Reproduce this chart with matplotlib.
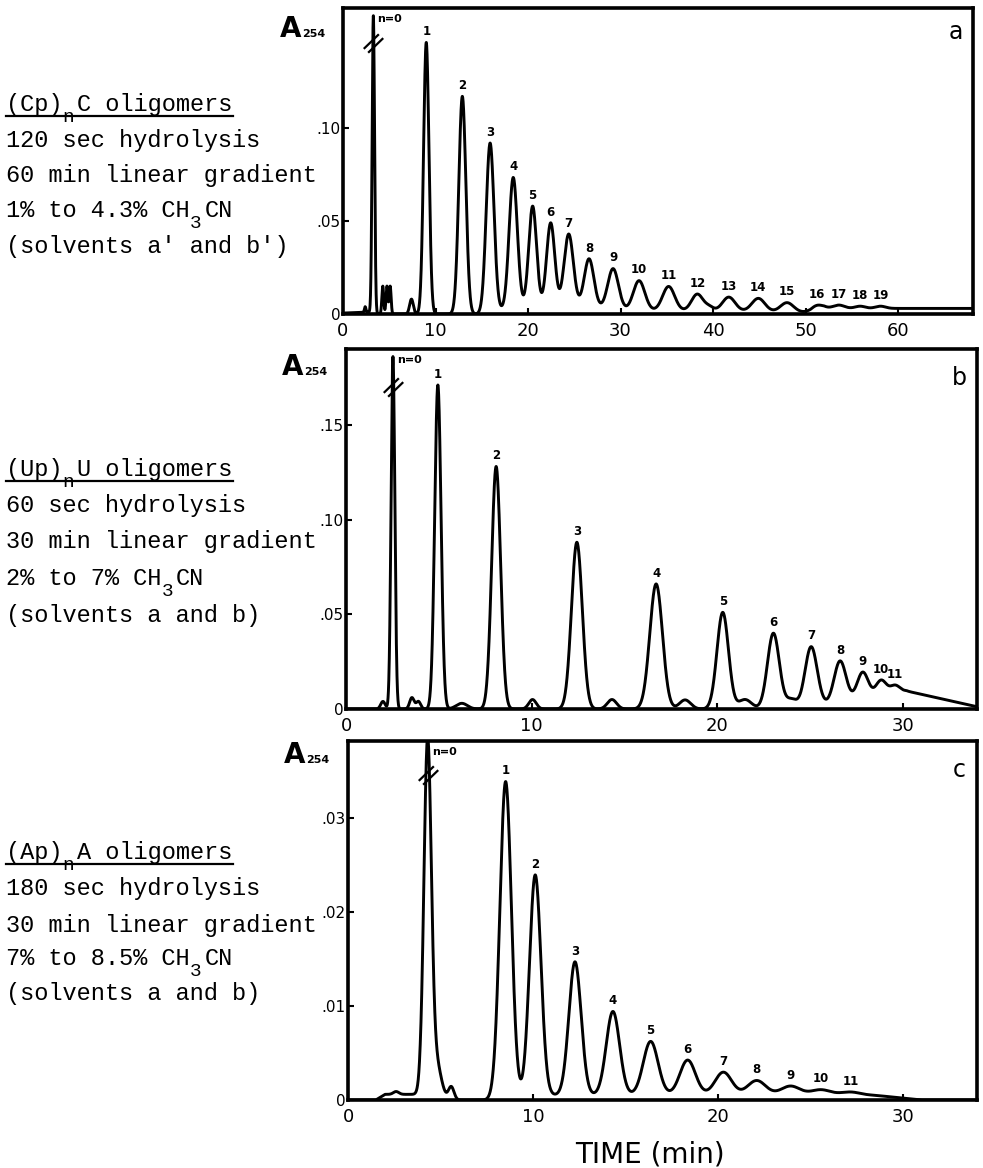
import numpy as np
import matplotlib.pyplot as plt
from matplotlib.path import Path

W, H, DPI = 983, 1168, 100

# ---------------- panel a : (Cp)nC oligomers ----------------
a_xmax, a_ymax = 68.1, 0.1645
a_xticks = [0, 10, 20, 30, 40, 50, 60]
a_yticks = [0, 0.05, 0.10]
a_ylabels = ["0", ".05", ".10"]
a_zero = (3.28, 0.160, 0.13)           # n=0 peak (off scale)
a_n_time = [9.0, 12.9, 15.9, 18.4, 20.5, 22.45, 24.4, 26.6, 29.2, 32.0,
            35.2, 38.3, 41.7, 44.9, 48.0, 51.2, 53.6, 55.9, 58.1]
a_n_height = [0.146, 0.117, 0.091, 0.070, 0.054, 0.045, 0.039, 0.026, 0.022, 0.016,
              0.013, 0.009, 0.0075, 0.007, 0.005, 0.0028, 0.0018, 0.0012, 0.0012]
a_n_width = [0.29, 0.38, 0.42, 0.44, 0.42, 0.44, 0.50, 0.52, 0.58, 0.62,
             0.65, 0.62, 0.68, 0.70, 0.70, 0.65, 0.60, 0.55, 0.55]
a_minor_time = [2.4, 4.3, 4.75, 5.1, 7.4, 39.6]
a_minor_height = [0.003, 0.015, 0.015, 0.015, 0.008, 0.002]
a_minor_width = [0.08, 0.10, 0.10, 0.10, 0.20, 0.45]
a_base_time = [0, 2.8, 3.6, 15, 19, 26, 30, 44, 49, 50.5, 52, 68.1]
a_base_val = [0.0005, 0.001, 0.0, 0.0, 0.004, 0.004, 0.002, 0.0015, 0.001, 0.0008, 0.003, 0.003]

# ---------------- panel b : (Up)nU oligomers ----------------
b_xmax, b_ymax = 34.0, 0.190
b_xticks = [0, 10, 20, 30]
b_yticks = [0, 0.05, 0.10, 0.15]
b_ylabels = ["0", ".05", ".10", ".15"]
b_zero = (2.53, 0.186, 0.10)
b_n_time = [4.95, 8.09, 12.44, 16.71, 20.30, 23.03, 25.06, 26.62, 27.84, 28.83, 29.58]
b_n_height = [0.171, 0.128, 0.088, 0.066, 0.051, 0.040, 0.032, 0.022, 0.014, 0.008, 0.004]
b_n_width = [0.17, 0.24, 0.29, 0.34, 0.31, 0.32, 0.33, 0.32, 0.30, 0.28, 0.26]
b_minor_time = [1.99, 3.55, 3.9, 6.24, 10.05, 14.33, 18.27, 21.5, 24.0]
b_minor_height = [0.004, 0.006, 0.004, 0.003, 0.005, 0.005, 0.0048, 0.005, 0.005]
b_minor_width = [0.12, 0.12, 0.12, 0.30, 0.20, 0.25, 0.30, 0.35, 0.30]
b_base_time = [0, 24.5, 27.0, 29.0, 30.2, 32.0, 34.0]
b_base_val = [0.0, 0.0, 0.004, 0.0075, 0.0095, 0.0056, 0.0012]

# ---------------- panel c : (Ap)nA oligomers ----------------
c_xmax, c_ymax = 34.0, 0.0382
c_xticks = [0, 10, 20, 30]
c_yticks = [0, 0.01, 0.02, 0.03]
c_ylabels = ["0", ".01", ".02", ".03"]
c_zero = (4.30, 0.0375, 0.20)
c_n_time = [8.52, 10.12, 12.27, 14.32, 16.36, 18.36, 20.29, 22.09, 23.92, 25.55, 27.17]
c_n_height = [0.0338, 0.0236, 0.0142, 0.0089, 0.0057, 0.0037, 0.0024, 0.0015, 0.0009, 0.0005, 0.0003]
c_n_width = [0.31, 0.31, 0.33, 0.36, 0.40, 0.42, 0.45, 0.48, 0.50, 0.50, 0.50]
c_minor_time = [4.75, 5.58, 2.6]
c_minor_height = [0.004, 0.0014, 0.0003]
c_minor_width = [0.28, 0.15, 0.15]
c_base_time = [0, 1.5, 2.0, 3.9, 4.1, 7.0, 8.0, 11.0, 26.0, 28.5, 31.0, 34.0]
c_base_val = [0.0, 0.0, 0.0006, 0.0006, 0.0, 0.0, 0.0, 0.0005, 0.0006, 0.0005, 0.0, 0.0]

notes_a = ["(Cp)_nC oligomers", "120 sec hydrolysis", "60 min linear gradient",
           "1% to 4.3% CH_3CN", "(solvents a' and b')"]
notes_b = ["(Up)_nU oligomers", "60 sec hydrolysis", "30 min linear gradient",
           "2% to 7% CH_3CN", "(solvents a and b)"]
notes_c = ["(Ap)_nA oligomers", "180 sec hydrolysis", "30 min linear gradient",
           "7% to 8.5% CH_3CN", "(solvents a and b)"]


def peaks(t, centers, heights, widths):
    y = np.zeros_like(t)
    for c, h, w in zip(centers, heights, widths):
        y += h * np.exp(-0.5 * ((t - c) / w) ** 2)
    return y


fig = plt.figure(figsize=(W / DPI, H / DPI), dpi=DPI)
MONO = "Liberation Mono"
FS = 17
CW = FS * DPI / 72 * 0.6  # monospace column width in px

# break mark "//"
brk = Path([(-1.0, -0.55), (0.55, 0.95), (-0.55, -0.95), (1.0, 0.55)],
           [Path.MOVETO, Path.LINETO, Path.MOVETO, Path.LINETO])


def text_block(lines, baselines, x0=6):
    for i, (line, yb) in enumerate(zip(lines, baselines)):
        col, k = 0, 0
        while k < len(line):
            if line[k] == "_":
                fig.text((x0 + col * CW) / W, 1 - (yb + 11) / H, line[k + 1],
                         family=MONO, fontsize=14, va="baseline", ha="left")
                col += 1
                k += 2
            else:
                j = line.find("_", k)
                j = len(line) if j < 0 else j
                fig.text((x0 + col * CW) / W, 1 - yb / H, line[k:j],
                         family=MONO, fontsize=FS, va="baseline", ha="left")
                col += j - k
                k = j
        if i == 0:
            fig.add_artist(plt.Line2D([x0 / W, (x0 + col * CW) / W],
                                      [1 - (yb + 5) / H] * 2, color="black", lw=1.6))


def panel(box, xmax, ymax, xticks, yticks, ylabels, zero, n_t, n_h, n_w,
          m_t, m_h, m_w, base_t, base_v, letter, brk_y, a_pos):
    l, t, r, b = box
    ax = fig.add_axes([l / W, 1 - b / H, (r - l) / W, (b - t) / H])
    tt = np.linspace(0, xmax, 5000)
    y = (peaks(tt, n_t, n_h, n_w) + peaks(tt, m_t, m_h, m_w)
         + peaks(tt, [zero[0]], [zero[1]], [zero[2]]) + np.interp(tt, base_t, base_v))
    ax.plot(tt, y, color="black", lw=2.1, solid_joinstyle="round")
    ax.set_xlim(0, xmax)
    ax.set_ylim(0, ymax)
    ax.set_xticks(xticks)
    ax.set_xticklabels([str(v) for v in xticks])
    ax.set_yticks(yticks)
    ax.set_yticklabels(ylabels)
    ax.tick_params(axis="x", direction="in", length=4, width=1.5, labelsize=13, pad=6)
    ax.tick_params(axis="y", direction="in", length=4, width=1.5, labelsize=11, pad=2)
    for s in ax.spines.values():
        s.set_linewidth(2.6)
    for i, tn in enumerate(n_t):
        ax.annotate(str(i + 1), xy=(tn, np.interp(tn, tt, y)), xytext=(0, 3),
                    textcoords="offset points", ha="center", va="bottom",
                    fontsize=8.5, fontweight="bold")
    ax.annotate("n=0", xy=(zero[0], 1), xycoords=("data", "axes fraction"),
                xytext=(3, -4), textcoords="offset points", ha="left", va="top",
                fontsize=8, fontweight="bold")
    ax.plot([zero[0]], [brk_y], marker=brk, markersize=14, color="black",
            markeredgewidth=1.6, linestyle="none")
    ax.text(0.972, 0.92, letter, transform=ax.transAxes, fontsize=17,
            ha="center", va="center")
    ax_x, ax_y = a_pos
    fig.text(ax_x / W, 1 - ax_y / H, "A", fontsize=20, fontweight="bold",
             ha="left", va="baseline")
    fig.text((ax_x + 22) / W, 1 - ax_y / H, "254", fontsize=8, fontweight="bold",
             ha="left", va="baseline")
    return ax


panel((343, 8, 973, 314), a_xmax, a_ymax, a_xticks, a_yticks, a_ylabels, a_zero,
      a_n_time, a_n_height, a_n_width, a_minor_time, a_minor_height, a_minor_width,
      a_base_time, a_base_val, "a", 0.1457, (280, 37))
panel((346, 349, 977, 709), b_xmax, b_ymax, b_xticks, b_yticks, b_ylabels, b_zero,
      b_n_time, b_n_height, b_n_width, b_minor_time, b_minor_height, b_minor_width,
      b_base_time, b_base_val, "b", 0.170, (282, 375))
panel((348, 741, 977, 1100), c_xmax, c_ymax, c_xticks, c_yticks, c_ylabels, c_zero,
      c_n_time, c_n_height, c_n_width, c_minor_time, c_minor_height, c_minor_width,
      c_base_time, c_base_val, "c", 0.0346, (284, 763))

text_block(notes_a, [111, 147, 182, 217, 253])
text_block(notes_b, [476, 512, 548, 585, 622])
text_block(notes_c, [859, 895, 932, 965, 1000])

fig.text(650 / W, 1 - 1155 / H, "TIME (min)", fontsize=20, ha="center", va="center")

fig.savefig("out.png", dpi=DPI, facecolor="white")
